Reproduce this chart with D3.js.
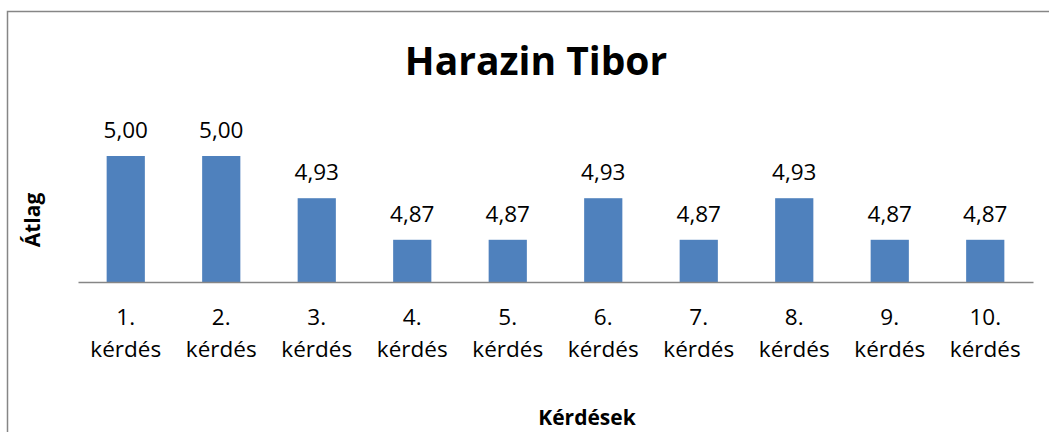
<!DOCTYPE html>
<html>
<head>
<meta charset="utf-8">
<script src="https://cdn.jsdelivr.net/npm/d3@7"></script>
<style>
  html, body { margin: 0; padding: 0; background: #fff; }
  svg { display: block; font-family: "Open Sans", sans-serif; }
</style>
</head>
<body>
<div id="chart"></div>
<script>
const width = 1049;
const height = 432;

// adatok
const kerdesek = ["1.", "2.", "3.", "4.", "5.", "6.", "7.", "8.", "9.", "10."];
const atlagok = [5.00, 5.00, 4.933, 4.867, 4.867, 4.933, 4.867, 4.933, 4.867, 4.867];
const yDomain = [4.8, 5.0];

const svg = d3.select("#chart")
  .append("svg")
  .attr("width", width)
  .attr("height", height);

// keret
svg.append("rect")
  .attr("x", 7.5)
  .attr("y", 11.5)
  .attr("width", width + 20)
  .attr("height", height + 20)
  .attr("fill", "none")
  .attr("stroke", "#868686")
  .attr("stroke-width", 1.5);

const x = d3.scaleBand()
  .domain(kerdesek)
  .range([78, 1033])
  .paddingInner(0.6)
  .paddingOuter(0.3);

const y = d3.scaleLinear()
  .domain(yDomain)
  .range([282, 156]);

// oszlopok
svg.selectAll(".bar")
  .data(atlagok)
  .enter()
  .append("rect")
  .attr("class", "bar")
  .attr("x", (d, i) => x(kerdesek[i]))
  .attr("y", d => y(d))
  .attr("width", x.bandwidth())
  .attr("height", d => y(yDomain[0]) - y(d))
  .attr("fill", "#4f81bd");

// értékcímkék
svg.selectAll(".val")
  .data(atlagok)
  .enter()
  .append("text")
  .attr("class", "val")
  .attr("x", (d, i) => x(kerdesek[i]) + x.bandwidth() / 2)
  .attr("y", d => y(d) - 18)
  .attr("text-anchor", "middle")
  .attr("font-size", 22.5)
  .attr("fill", "#000")
  .text(d => d3.format(".2f")(d).replace(".", ","));

// x tengely
const xAxis = svg.append("g")
  .attr("transform", "translate(0," + y(yDomain[0]) + ")")
  .call(d3.axisBottom(x).tickSize(0).tickFormat(""));
xAxis.select(".domain").attr("stroke", "#868686").attr("stroke-width", 1.5);

const catLabels = svg.selectAll(".cat")
  .data(kerdesek)
  .enter()
  .append("text")
  .attr("class", "cat")
  .attr("text-anchor", "middle")
  .attr("font-size", 22.5)
  .attr("fill", "#000");
catLabels.append("tspan")
  .attr("x", d => x(d) + x.bandwidth() / 2)
  .attr("y", 325)
  .text(d => d);
catLabels.append("tspan")
  .attr("x", d => x(d) + x.bandwidth() / 2)
  .attr("y", 357)
  .text("kérdés");

// cím
svg.append("text")
  .attr("x", 536)
  .attr("y", 75)
  .attr("text-anchor", "middle")
  .attr("font-size", 39)
  .attr("font-weight", "bold")
  .text("Harazin Tibor");

// tengelycímek
svg.append("text")
  .attr("transform", "translate(40,220) rotate(-90)")
  .attr("text-anchor", "middle")
  .attr("font-size", 21)
  .attr("font-weight", "bold")
  .text("Átlag");

svg.append("text")
  .attr("x", 587)
  .attr("y", 425)
  .attr("text-anchor", "middle")
  .attr("font-size", 21)
  .attr("font-weight", "bold")
  .text("Kérdések");
</script>
</body>
</html>
